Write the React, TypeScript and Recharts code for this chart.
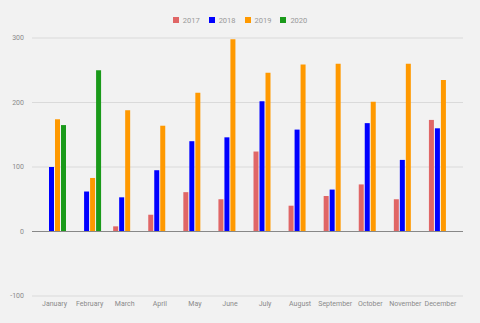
import { BarChart, Bar, XAxis, YAxis, CartesianGrid, Legend, ReferenceLine } from "recharts";

const months = ["January", "February", "March", "April", "May", "June", "July", "August", "September", "October", "November", "December"];
const y2017 = [null, null, 8, 26, 61, 50, 124, 40, 55, 73, 50, 173];
const y2018 = [100, 62, 53, 95, 140, 146, 202, 158, 65, 168, 111, 160];
const y2019 = [174, 83, 188, 164, 215, 298, 246, 259, 260, 201, 260, 235];
const y2020 = [165, 250, null, null, null, null, null, null, null, null, null, null];
const yTicks = [-100, 0, 100, 200, 300];

const SERIES = [
  { key: "2017", color: "#e06666" },
  { key: "2018", color: "#0000ff" },
  { key: "2019", color: "#ff9900" },
  { key: "2020", color: "#1a9a1a" },
];

const data = months.map((m, i) => ({
  month: m,
  "2017": y2017[i],
  "2018": y2018[i],
  "2019": y2019[i],
  "2020": y2020[i],
}));

const yTickStyle = { fontSize: 7, fill: "#8a8a8a", fontFamily: "Roboto" };
const xTickStyle = { fontSize: 7, fill: "#8a8a8a", fontFamily: "Roboto" };

function LegendRow() {
  return (
    <div style={{ display: "flex", justifyContent: "center", height: 16, alignItems: "center", fontFamily: "Roboto", fontSize: 7.5, color: "#999" }}>
      {SERIES.map((s) => (
        <div key={s.key} style={{ display: "flex", alignItems: "center", margin: "0 4.5px" }}>
          <span style={{ width: 6, height: 6, background: s.color, display: "inline-block", marginRight: 4 }} />
          {s.key}
        </div>
      ))}
    </div>
  );
}

export default function App() {
  return (
    <div style={{ position: "absolute", top: 0, left: 0, width: 480, height: 323, background: "#f2f2f2" }}>
      <BarChart width={480} height={323} data={data} margin={{ top: 22, right: 17, bottom: 7, left: 0 }} barSize={5} barGap={1}>
        <CartesianGrid vertical={false} stroke="#dadada" />
        <XAxis
          dataKey="month"
          tick={xTickStyle}
          tickLine={false}
          axisLine={false}
          padding={{ left: 5, right: 5 }}
          height={20}
          interval={0}
          dy={-3}
        />
        <YAxis
          domain={[-100, 300]}
          ticks={yTicks}
          tick={yTickStyle}
          tickLine={false}
          axisLine={false}
          width={32}
        />
        <ReferenceLine y={0} stroke="#888" />
        <Legend verticalAlign="top" height={16} wrapperStyle={{ top: 12, left: 0, width: 480 }} content={() => <LegendRow />} />
        {SERIES.map((s) => (
          <Bar key={s.key} dataKey={s.key} fill={s.color} isAnimationActive={false} />
        ))}
      </BarChart>
    </div>
  );
}
